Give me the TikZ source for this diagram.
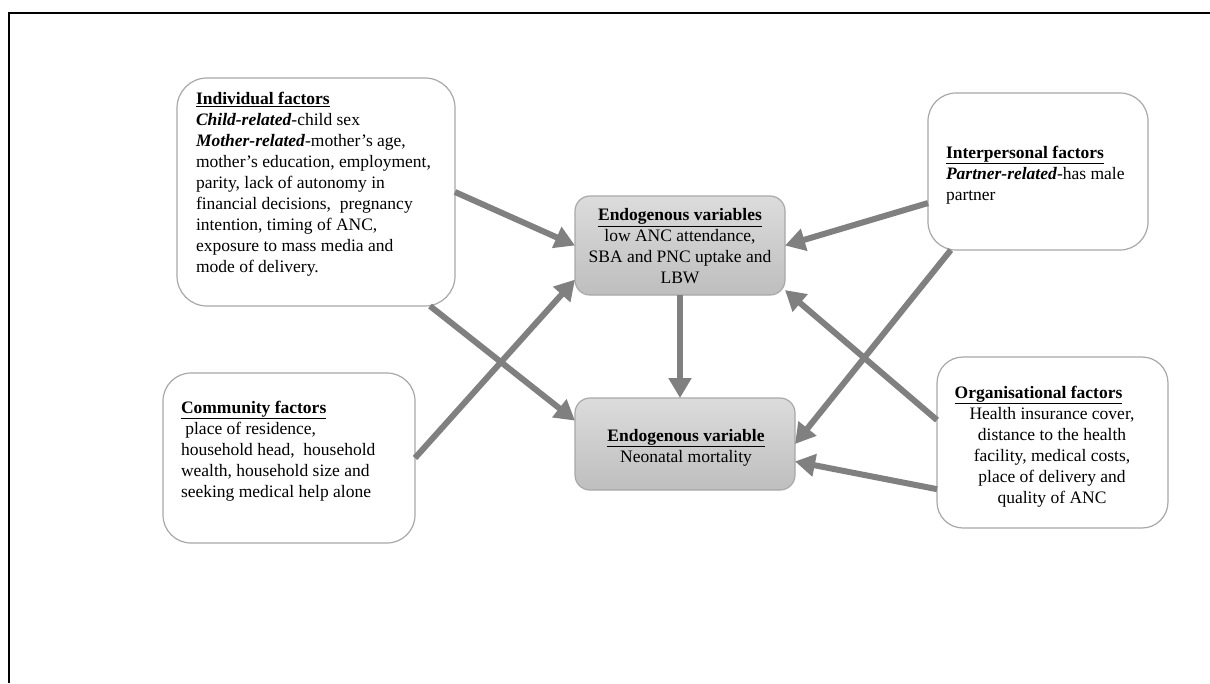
\documentclass[tikz,border=0pt]{standalone}
\usepackage{fontspec}
\setmainfont{Liberation Serif}
\usetikzlibrary{arrows.meta}

\definecolor{boxline}{RGB}{168,168,168}
\definecolor{arrowgray}{RGB}{128,128,128}
\definecolor{shadetop}{RGB}{220,220,220}
\definecolor{shadebot}{RGB}{190,190,190}

\tikzset{
  factor/.style={draw=boxline, line width=1.2pt, fill=white, inner sep=0pt, outer sep=0pt},
  endo/.style={draw=boxline, line width=1.2pt, top color=shadetop, bottom color=shadebot,
               rounded corners=15pt, inner sep=0pt, outer sep=0pt},
  label/.style={inner sep=0pt, outer sep=0pt, font=\fontsize{17.5}{21}\selectfont},
  link/.style={draw=arrowgray, line width=6pt, -{Triangle[length=20pt,width=22pt]}}
}

\newcommand{\heading}[1]{\underline{\textbf{#1}}}

\begin{document}
\begin{tikzpicture}[x=1pt, y=-1pt]
\useasboundingbox (0,0) rectangle (1210,683);
\fill[white] (0,0) rectangle (1210,683);

% outer frame (top and left edges visible)
\draw[black, line width=1.6pt] (9,683) -- (9,13) -- (1210,13);

% factor boxes
\node[factor, rounded corners=30pt, minimum width=278pt, minimum height=228pt] (ind) at (316,192) {};
\node[factor, rounded corners=28pt, minimum width=220pt, minimum height=157pt] (inter) at (1038,171.5) {};
\node[factor, rounded corners=28pt, minimum width=252pt, minimum height=170pt] (comm) at (289,458) {};
\node[factor, rounded corners=26pt, minimum width=231pt, minimum height=171pt] (org) at (1052.5,442.5) {};

% endogenous boxes
\node[endo, minimum width=210pt, minimum height=99pt] (endoA) at (680,245.5) {};
\node[endo, minimum width=220pt, minimum height=92pt] (endoB) at (685,444) {};

% box texts
\node[label, anchor=west, align=left] (indtxt) at (196,184.5) {%
  \heading{Individual factors}\\
  \textbf{\textit{Child-related}}-child sex\\
  \textbf{\textit{Mother-related}}-mother’s age,\\
  mother’s education, employment,\\
  parity, lack of autonomy in\\
  financial decisions,\ \ pregnancy\\
  intention, timing of ANC,\\
  exposure to mass media and\\
  mode of delivery.};

\node[label, anchor=west, align=left] (intertxt) at (946,175) {%
  \heading{Interpersonal factors}\\
  \textbf{\textit{Partner-related}}-has male\\
  partner};

\node[label, anchor=west, align=left] (commtxt) at (181,451) {%
  \heading{Community factors}\\
  \hspace*{0.25em}place of residence,\\
  household head,\ \ household\\
  wealth, household size and\\
  seeking medical help alone};

\node[label, align=center] (orgtxt) at (1052,446.5) {%
  \heading{Organisational factors}\hspace*{27pt}\\
  Health insurance cover,\\
  distance to the health\\
  facility, medical costs,\\
  place of delivery and\\
  quality of ANC};

\node[label, align=center] (endoAtxt) at (680,246.5) {%
  \heading{Endogenous variables}\\
  low ANC attendance,\\
  SBA and PNC uptake and\\
  LBW};

\node[label, align=center] (endoBtxt) at (686,447.5) {%
  \heading{Endogenous variable}\\
  Neonatal mortality};

% connectors
\draw[link] (ind.east) -- (endoA.west);
\draw[link] (ind.-45) -- (endoB.168);
\draw[link] (comm.east) -- (endoA.198);
\draw[link] (inter.196) -- (endoA.east);
\draw[link] (inter.222) -- (endoB.east);
\draw[link] (org.169) -- (endoA.-23);
\draw[link] (org.202) -- (endoB.-9);
\draw[link] (endoA.south) -- (endoA.south |- endoB.north);
\end{tikzpicture}
\end{document}
